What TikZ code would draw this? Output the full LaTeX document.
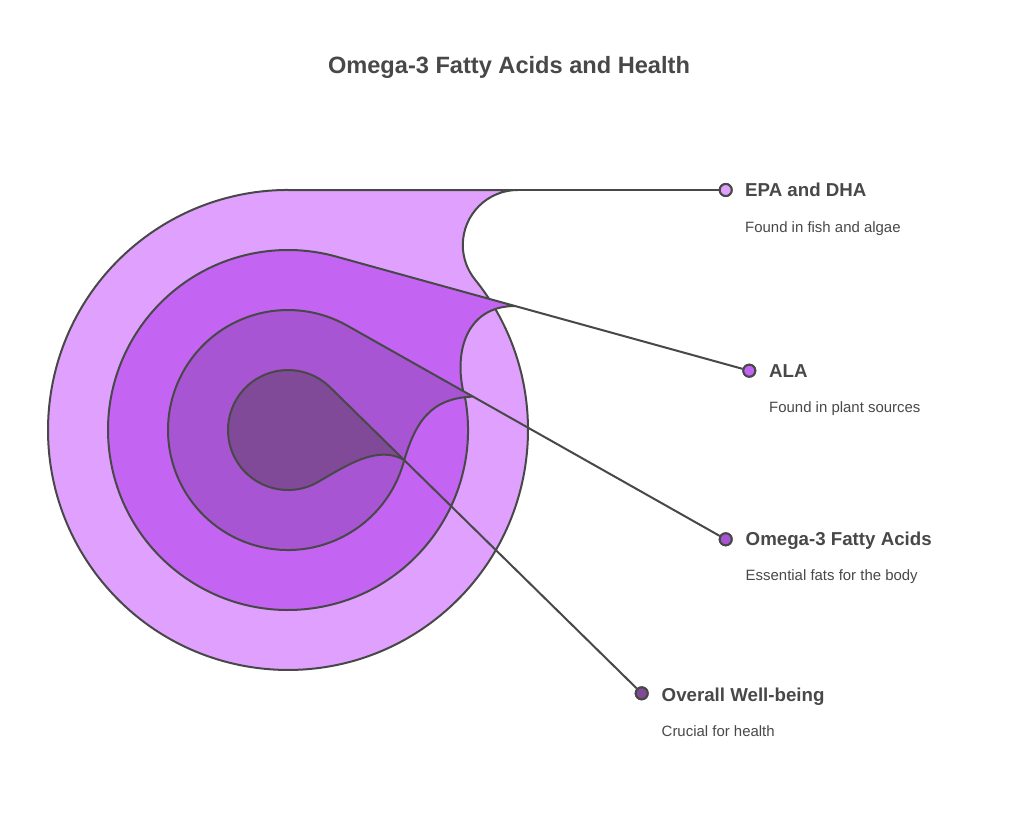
\documentclass[tikz,border=0pt]{standalone}
\usepackage{fontspec}
\setmainfont{Liberation Sans}
\definecolor{cA}{HTML}{E0A1FE}
\definecolor{cB}{HTML}{C364F2}
\definecolor{cC}{HTML}{A855D4}
\definecolor{cD}{HTML}{804A98}
\definecolor{linec}{HTML}{484848}
\definecolor{txt}{HTML}{484848}
\begin{document}
\begin{tikzpicture}[x=1pt,y=-1pt,
  layer/.style={draw=linec, line width=2pt, line join=round},
  conn/.style={draw=linec, line width=2pt},
  dotmark/.style={circle, draw=linec, line width=2pt, minimum size=12pt, inner sep=0pt},
  head/.style={anchor=base west, inner sep=0pt, text=txt, font=\bfseries\fontsize{18.7}{21}\selectfont},
  desc/.style={anchor=base west, inner sep=0pt, text=txt, font=\fontsize{14.95}{18}\selectfont}]
\useasboundingbox (0,0) rectangle (1020,827);
\fill[white] (0,0) rectangle (1020,827);

\node[anchor=base, inner sep=0pt, text=txt, font=\bfseries\fontsize{23.6}{28}\selectfont] (title) at (509,73.3) {Omega-3 Fatty Acids and Health};

% label dots
\node[dotmark, fill=cA] (d1) at (725.7,190) {};
\node[dotmark, fill=cB] (d2) at (749.3,370.7) {};
\node[dotmark, fill=cC] (d3) at (725.7,539.3) {};
\node[dotmark, fill=cD] (d4) at (641.7,693.3) {};

% tips
\coordinate (t1) at (517.8,190);
\coordinate (t2) at (515,306);
\coordinate (t3) at (473,396.6);
\coordinate (t4) at (404,459.9);

% layer 1
\path[layer, fill=cA] (288,190) -- (t1) arc[start angle=90, end angle=218.83, radius=55pt]
  arc[start angle=38.83, end angle=-270, radius=240pt] -- cycle;
\draw[conn] (t1) -- (d1);
% layer 2
\path[layer, fill=cB] (335.9,256.5) -- (t2) .. controls (465,306) and (452,355) .. (465.5,400)
  arc[start angle=9.59, end angle=-285.44, radius=180pt] -- cycle;
\draw[conn] (t2) -- (d2);
% layer 3
\path[layer, fill=cC] (347,325.5) -- (t3) .. controls (430,398) and (415,422.6) .. (403.4,463)
  arc[start angle=-15.96, end angle=-299.45, radius=120pt] -- cycle;
\draw[conn] (t3) -- (d3);
% layer 4
\path[layer, fill=cD] (330,387.2) -- (t4) .. controls (378,445) and (348,464.5) .. (318,482)
  arc[start angle=-60, end angle=-314.48, radius=60pt] -- cycle;
\draw[conn] (t4) -- (d4);

% redraw dots on top
\node[dotmark, fill=cA] at (d1) {};
\node[dotmark, fill=cB] at (d2) {};
\node[dotmark, fill=cC] at (d3) {};
\node[dotmark, fill=cD] at (d4) {};

% labels
\node[head] (h1) at (745,196.7) {EPA and DHA};
\node[desc] (s1) at (745,232.3) {Found in fish and algae};
\node[head] (h2) at (769,377) {ALA};
\node[desc] (s2) at (769,412) {Found in plant sources};
\node[head] (h3) at (745.5,545.3) {Omega-3 Fatty Acids};
\node[desc] (s3) at (745.5,580.3) {Essential fats for the body};
\node[head] (h4) at (661.5,701.3) {Overall Well-being};
\node[desc] (s4) at (661.5,736.5) {Crucial for health};
\end{tikzpicture}
\end{document}
